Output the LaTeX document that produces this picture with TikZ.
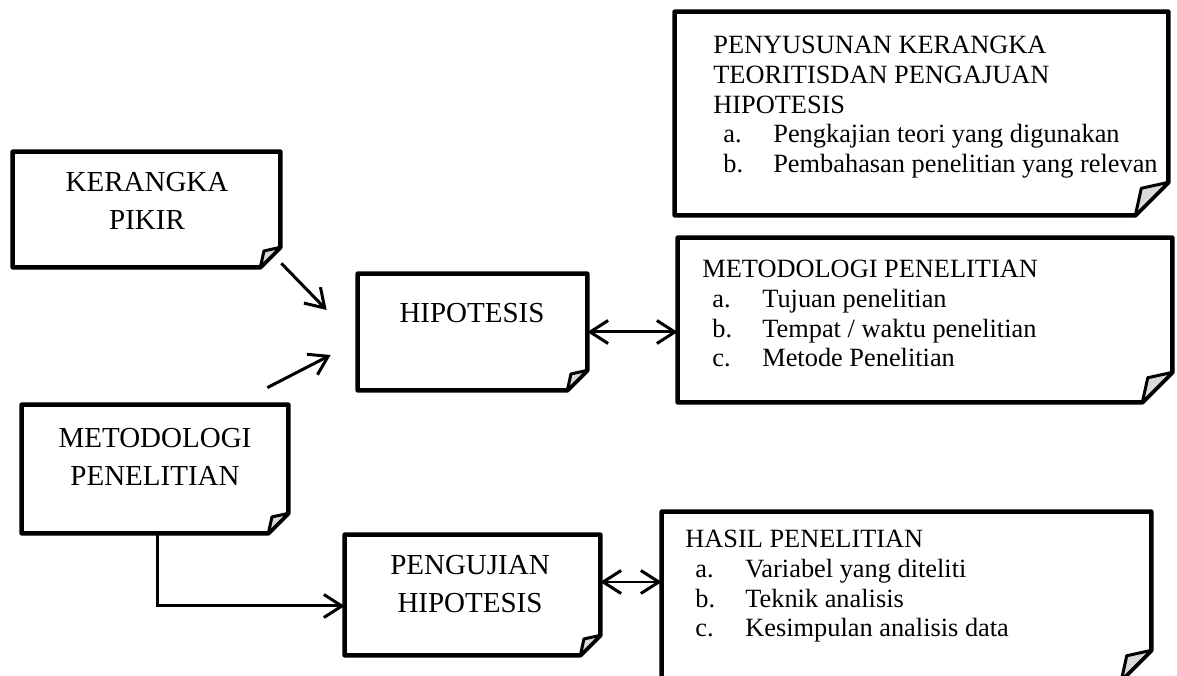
\documentclass[tikz,border=0pt]{standalone}
\usepackage{fontspec}
\setmainfont{Liberation Serif}
\usetikzlibrary{arrows.meta}

\tikzset{
  kotak/.style={inner sep=0pt},
  garis/.style={line width=0.09cm, line join=round},
  lipat/.style={line width=0.06cm, line join=round, fill=gray!30},
  besar/.style={font=\fontsize{16.5}{21.6}\selectfont, align=center, inner sep=0pt, anchor=north},
  kecil/.style={font=\fontsize{15}{16.9}\selectfont, align=left, inner sep=0pt, anchor=north west},
  panah/.style={line width=0.06cm, -{Straight Barb[length=0.36cm,width=0.46cm]}},
  duaarah/.style={line width=0.06cm, {Straight Barb[length=0.36cm,width=0.46cm]}-{Straight Barb[length=0.36cm,width=0.46cm]}}
}

% kertas dengan sudut terlipat: nama node, ukuran lipatan
\newcommand{\kertas}[2]{%
  \draw[garis] (#1.north west) -- (#1.north east) -- ([yshift=#2]#1.south east)
    -- ([xshift=-#2]#1.south east) -- (#1.south west) -- cycle;
  \draw[lipat] ([yshift=#2]#1.south east) -- ([shift={(-0.82*#2,0.82*#2)}]#1.south east)
    -- ([xshift=-#2]#1.south east) -- cycle;}
\newcommand{\butir}[2]{\hspace*{0.2cm}\makebox[1.0cm][l]{#1}#2}

\begin{document}
\begin{tikzpicture}
  \useasboundingbox (0,0) rectangle (23.54,13.5);

  \node[kotak, minimum width=5.34cm, minimum height=2.30cm] (pikir) at (2.93,9.31) {};
  \node[kotak, minimum width=5.32cm, minimum height=2.56cm] (metkiri) at (3.10,4.12) {};
  \node[kotak, minimum width=4.58cm, minimum height=2.32cm] (hipo) at (9.45,6.86) {};
  \node[kotak, minimum width=5.10cm, minimum height=2.40cm] (uji) at (9.45,1.60) {};
  \node[kotak, minimum width=9.86cm, minimum height=4.06cm] (teori) at (18.43,11.23) {};
  \node[kotak, minimum width=9.88cm, minimum height=3.28cm] (metkanan) at (18.50,7.10) {};
  \node[kotak, minimum width=9.78cm, minimum height=3.36cm] (hasil) at (18.13,1.58) {};

  \kertas{pikir}{0.4cm}
  \kertas{metkiri}{0.4cm}
  \kertas{hipo}{0.4cm}
  \kertas{uji}{0.4cm}
  \kertas{teori}{0.66cm}
  \kertas{metkanan}{0.6cm}
  \kertas{hasil}{0.6cm}

  \node[besar] (pikir-t) at (2.94,10.06) {KERANGKA\\PIKIR};
  \node[besar] (metkiri-t) at (3.10,4.94) {METODOLOGI\\PENELITIAN};
  \node[besar] (hipo-t) at (9.44,7.44) {HIPOTESIS};
  \node[besar] (uji-t) at (9.40,2.40) {PENGUJIAN\\HIPOTESIS};

  \node[kecil] (teori-t) at (14.26,12.78) {PENYUSUNAN KERANGKA\\TEORITISDAN PENGAJUAN\\HIPOTESIS\\
    \butir{a.}{Pengkajian teori yang digunakan}\\
    \butir{b.}{Pembahasan penelitian yang relevan}};
  \node[kecil] (metkanan-t) at (14.04,8.30) {METODOLOGI PENELITIAN\\
    \butir{a.}{Tujuan penelitian}\\
    \butir{b.}{Tempat / waktu penelitian}\\
    \butir{c.}{Metode Penelitian}};
  \node[kecil] (hasil-t) at (13.70,2.90) {HASIL PENELITIAN\\
    \butir{a.}{Variabel yang diteliti}\\
    \butir{b.}{Teknik analisis}\\
    \butir{c.}{Kesimpulan analisis data}};

  \draw[panah] ([shift={(0.02,0.08)}]pikir.south east) -- ([shift={(-0.62,0.44)}]hipo.west);
  \draw[panah] ([shift={(-0.42,0.34)}]metkiri.north east) -- ([shift={(-0.54,-0.46)}]hipo.west);
  \draw[duaarah] (hipo.east) -- (hipo.east -| metkanan.west);
  \draw[panah] ([xshift=0.04cm]metkiri.south) |- ([yshift=-0.22cm]uji.west);
  \draw[duaarah] ([yshift=0.26cm]uji.east) -- ([yshift=0.26cm]uji.east -| hasil.west);
\end{tikzpicture}
\end{document}
